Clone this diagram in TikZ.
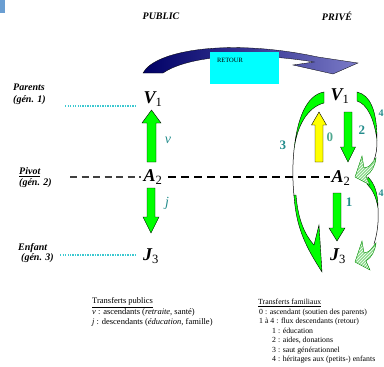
\documentclass[tikz,border=0pt]{standalone}
\usepackage{fontspec}
\setmainfont{Liberation Serif}
\usetikzlibrary{patterns}
\definecolor{tealA}{HTML}{238C8C}
\definecolor{tealB}{HTML}{4FA88F}
\definecolor{limeA}{HTML}{00FF00}
\definecolor{yelA}{HTML}{FFFF00}
\definecolor{navyA}{HTML}{000066}
\definecolor{lavA}{HTML}{7B7BC8}
\definecolor{cyanA}{HTML}{00FFFF}
\definecolor{dotA}{HTML}{3CC8D0}
\definecolor{hatchA}{HTML}{8FDC8F}
\definecolor{cornerA}{HTML}{6A9ED2}
\begin{document}
\begin{tikzpicture}[x=1pt,y=-1pt,
  gen/.style={font=\fontsize{18}{18}\selectfont, inner sep=1pt},
  side/.style={font=\fontsize{10}{11}\selectfont\bfseries\itshape, anchor=west, inner sep=0pt},
  head/.style={font=\fontsize{10}{11}\selectfont\bfseries\itshape, inner sep=0pt},
  num/.style={font=\fontsize{13}{13}\selectfont\bfseries, text=tealA, inner sep=0pt},
  lett/.style={font=\fontsize{14}{14}\selectfont\itshape, text=tealA, inner sep=0pt},
  garrow/.style={fill=limeA, draw=black, line width=0.4pt, line join=miter},
  yarrow/.style={fill=yelA, draw=black, line width=0.4pt, line join=miter},
  garc/.style={fill=limeA, draw=black, line width=0.4pt},
  hatchhead/.style={draw=green!55!black, line width=0.4pt, preaction={fill=hatchA}, pattern=north east lines, pattern color=white},
  dotline/.style={draw=dotA, line width=1.3pt, dash pattern=on 1.2pt off 1.3pt},
  dashL/.style={draw=black!75, line width=1.3pt, dash pattern=on 7pt off 4.5pt},
  dashR/.style={draw=black, line width=1.8pt, dash pattern=on 8pt off 5pt},
  legend/.style={anchor=north west, inner sep=0pt, align=left}
]
\useasboundingbox (0,0) rectangle (384,367);
\fill[cornerA] (0,0) rectangle (5,13);

% titles
\node[head] (pub) at (161,16) {PUBLIC};
\node[head] (priv) at (337,16) {PRIVÉ};

% retour arrow
\path[left color=navyA, right color=lavA, middle color=navyA!55!lavA, draw=black, line width=0.3pt]
  (143,73) .. controls (155,50) and (230,38) .. (318,57) -- (358,63) -- (333,74) -- (293,65) -- (314,62)
  .. controls (240,50) and (185,58) .. (163,73) -- cycle;
\node[fill=cyanA, minimum width=69pt, minimum height=32pt, inner sep=0pt] (retbox) at (244.5,68) {};
\node[font=\fontsize{6.5}{7}\selectfont, inner sep=0pt] (ret) at (230,60) {RETOUR};

% side labels
\node[side] (par) at (13,87) {Parents};
\node[side] (g1) at (13,100) {(gén. 1)};
\node[side] (piv) at (19,172) {\underline{Pivot}};
\node[side] (g2) at (19,183) {(gén. 2)};
\node[side] (enf) at (18,248) {Enfant};
\node[side] (g3) at (21,258) {(gén. 3)};

% generation nodes (public)
\node[gen] (V1) at (153,99) {{\bfseries\itshape V}\textsubscript{1}};
\node[gen] (A2) at (153,177) {{\bfseries\itshape A}\textsubscript{2}};
\node[gen] (J3) at (151,256) {{\bfseries\itshape J}\textsubscript{3}};
% generation nodes (prive)
\node[gen] (V1r) at (340,96) {{\bfseries\itshape V}\textsubscript{1}};
\node[gen] (A2r) at (341,178) {{\bfseries\itshape A}\textsubscript{2}};
\node[gen] (J3r) at (338,256) {{\bfseries\itshape J}\textsubscript{3}};

% dotted lines
\coordinate (d1a) at (65,106);
\coordinate (d1b) at (137,106);
\coordinate (d3a) at (60,255);
\coordinate (d3b) at (137,255);
\draw[dotline] (d1a) -- (d1b);
\draw[dotline] (d3a) -- (d3b);

% dashed pivot line
\coordinate (dla) at (70,177);
\coordinate (dlb) at (141,177);
\coordinate (dra) at (168,177);
\coordinate (drb) at (330,177);
\draw[dashL] (dla) -- (dlb);
\draw[dashR] (dra) -- (drb);

% public arrows
\draw[garrow] (147,162) -- (147,123) -- (142,123) -- (151.5,110) -- (161,123) -- (156,123) -- (156,162) -- cycle;
\draw[garrow] (147,188) -- (155,188) -- (155,217) -- (159,217) -- (151,233) -- (143,217) -- (147,217) -- cycle;
\node[lett] (lv) at (168,140) {v};
\node[lett] (lj) at (167,203) {j};

% private straight arrows
\draw[yarrow] (315,162) -- (315,125) -- (311.5,125) -- (319,112) -- (326.5,125) -- (323,125) -- (323,162) -- cycle;
\draw[garrow] (344,112) -- (352,112) -- (352,147) -- (355.5,147) -- (348,162) -- (340.5,147) -- (344,147) -- cycle;
\draw[garrow] (333,193) -- (341,193) -- (341,228) -- (345,228) -- (337,241) -- (329,228) -- (333,228) -- cycle;
\node[num, text=tealB] (l0) at (330,137) {0};
\node[num] (l2) at (362,130) {2};
\node[num] (l1) at (349,202) {1};
\node[num] (l3) at (283,145) {3};

% arc 3 (left)
\draw[garc] (324,92) .. controls (306,95) and (297,120) .. (294,150)
  .. controls (297,125) and (308,107) .. (324,103) -- cycle;
\draw[line width=0.5pt] (294,150) .. controls (292,170) and (293,185) .. (294,196);
\draw[garc] (294,195) .. controls (296,230) and (308,250) .. (322,272) -- (319,225) -- (314,245)
  .. controls (305,235) and (298,220) .. (296,195) -- cycle;

% arc 4 (right)
\draw[garc] (357,92) .. controls (370,95) and (377,110) .. (377,140)
  .. controls (374,118) and (367,104) .. (357,101) -- cycle;
\draw[line width=0.5pt] (377,140) .. controls (377,150) and (376,155) .. (374,160);
\draw[garc] (368,177) .. controls (375,184) and (378,194) .. (378,208)
  .. controls (376,196) and (372,189) .. (367,184) -- cycle;
\draw[line width=0.5pt] (378,208) .. controls (379,222) and (377,235) .. (374,244);
\draw[hatchhead] (362,156) -- (355,177) -- (370,185) -- (366,176) .. controls (372,172) and (375,166) .. (376,158)
  -- (372,163) .. controls (370,166) and (367,168) .. (364,168) -- cycle;
\draw[hatchhead] (362,241) -- (355,262) -- (370,270) -- (366,261) .. controls (372,257) and (375,251) .. (376,243)
  -- (372,248) .. controls (370,251) and (367,253) .. (364,253) -- cycle;
\node[num, font=\fontsize{10}{10}\selectfont\bfseries] (l4a) at (381.2,113) {4};
\node[num, font=\fontsize{10}{10}\selectfont\bfseries] (l4b) at (381.2,193) {4};

% legends
\node[legend, font=\fontsize{8.5}{10.5}\selectfont] (legpub) at (92,297.5)
  {\underline{Transferts publics}\\
   \textit{v} : ascendants (\textit{retraite}, santé)\\
   \textit{j} : descendants (\textit{éducation}, famille)};
\node[legend, font=\fontsize{7.8}{9.5}\selectfont] (legpriv) at (258,299)
  {\underline{Transferts familiaux}\\
   \hspace*{1pt}0 : ascendant (soutien des parents)\\
   \hspace*{1pt}1 à 4 : flux descendants (retour)\\
   \hspace*{14pt}1 : éducation\\
   \hspace*{14pt}2 : aides, donations\\
   \hspace*{14pt}3 : saut générationnel\\
   \hspace*{14pt}4 : héritages aux (petits-) enfants};
\end{tikzpicture}
\end{document}
